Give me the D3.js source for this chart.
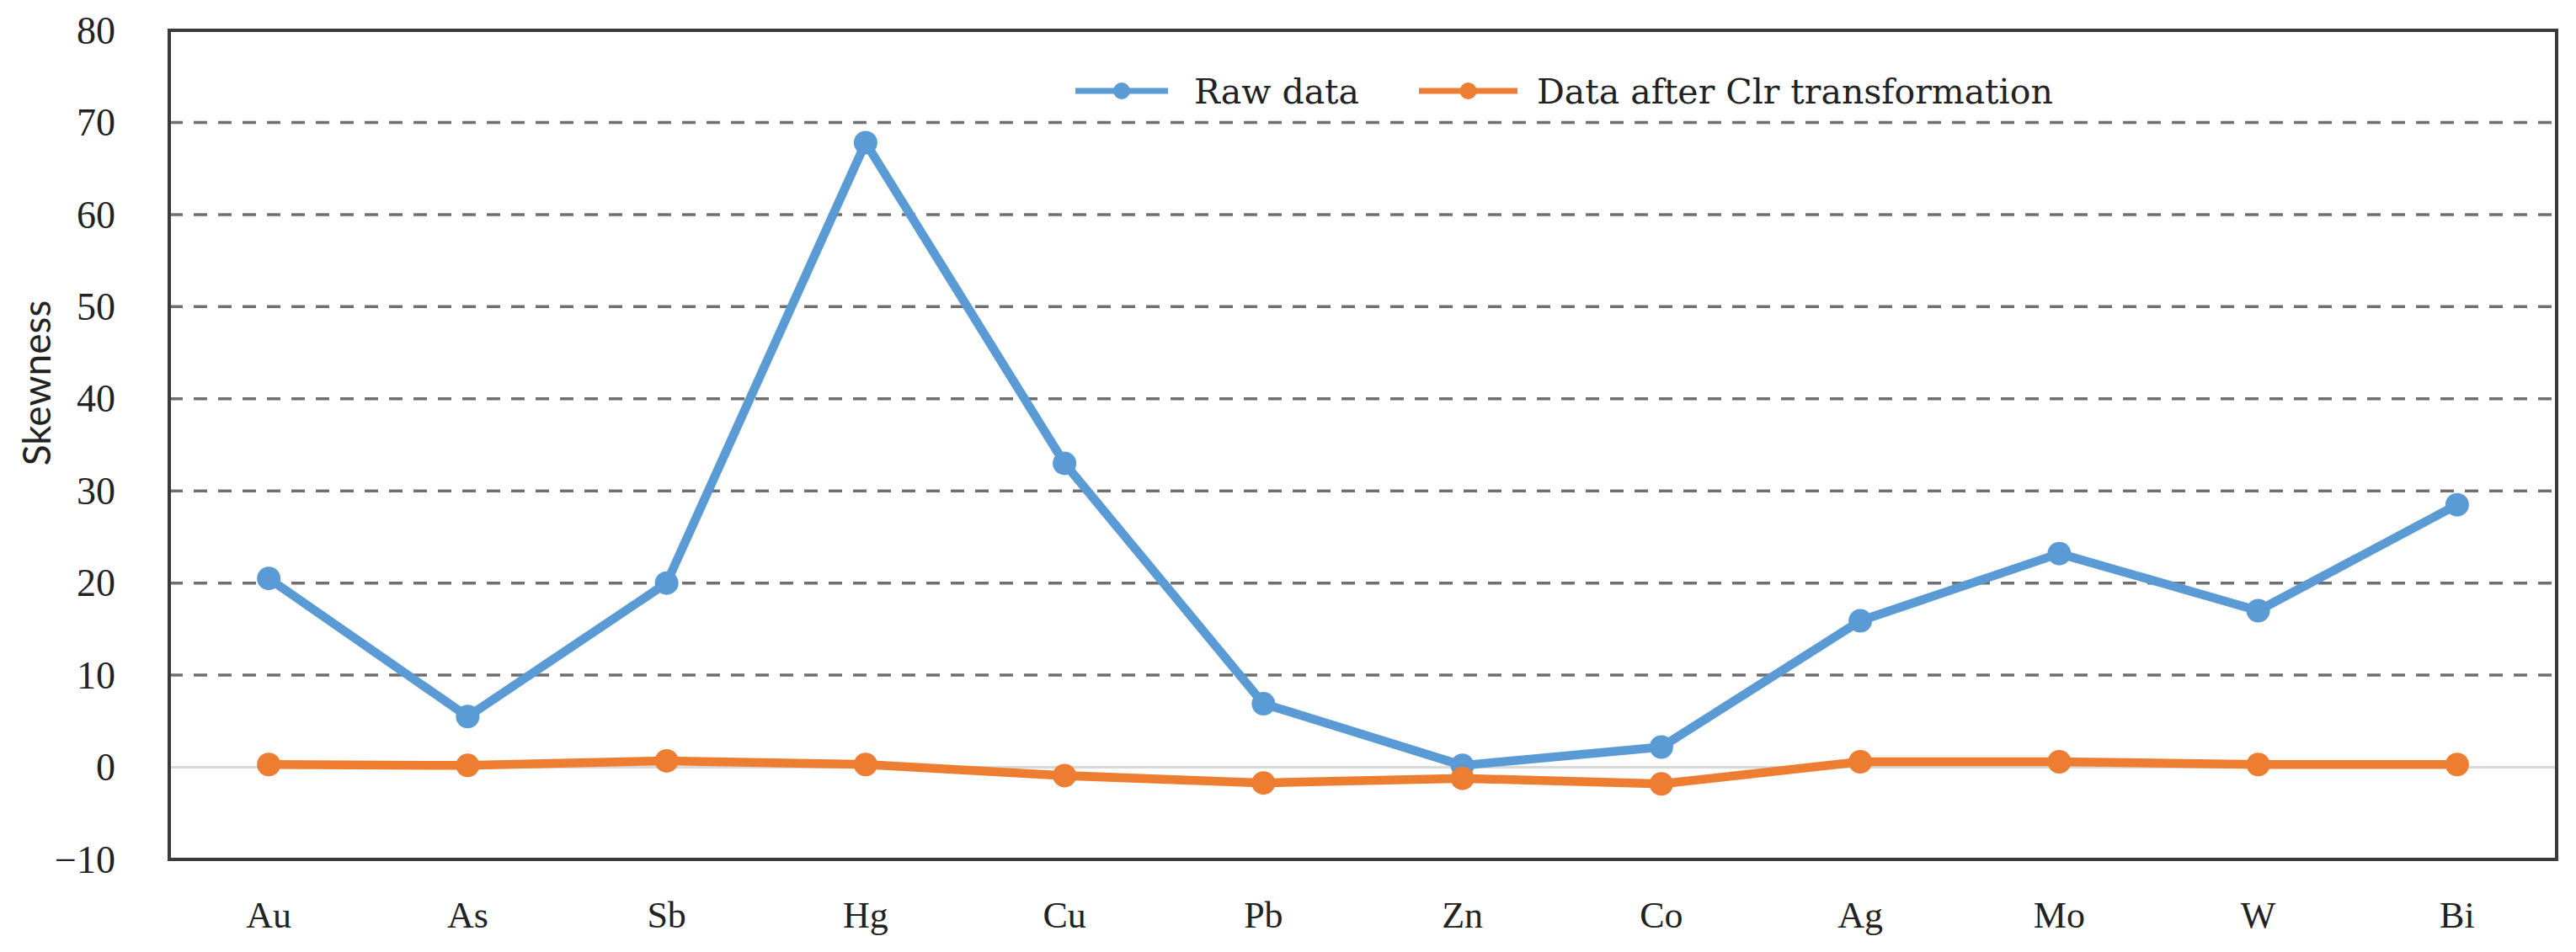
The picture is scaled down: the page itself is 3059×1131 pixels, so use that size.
<!DOCTYPE html>
<html>
<head>
<meta charset="utf-8">
<script src="https://cdn.jsdelivr.net/npm/d3@7"></script>
<style>
  html, body { margin: 0; padding: 0; background: #fff; }
  svg { display: block; }
</style>
</head>
<body>
<svg id="chart" width="3059" height="1131"></svg>
<script>
const categories = ["Au", "As", "Sb", "Hg", "Cu", "Pb", "Zn", "Co", "Ag", "Mo", "W", "Bi"];
const rawData = [20.5, 5.5, 20.0, 67.8, 33.0, 6.9, 0.2, 2.2, 15.9, 23.2, 17.0, 28.5];
const clrData = [0.3, 0.2, 0.7, 0.3, -0.9, -1.7, -1.2, -1.8, 0.6, 0.6, 0.3, 0.3];
const yTicks = [-10, 0, 10, 20, 30, 40, 50, 60, 70, 80];
const seriesNames = ["Raw data", "Data after Clr transformation"];
const seriesColors = ["#5B9BD5", "#ED7D31"];
const yLabel = "Skewness";

const svg = d3.select("#chart");
const margin = { left: 201, right: 3036, top: 36, bottom: 1021 };

const x = d3.scaleBand().domain(categories).range([margin.left, margin.right]);
const y = d3.scaleLinear().domain([-10, 80]).range([margin.bottom, margin.top]);
const cx = d => x(d) + x.bandwidth() / 2;

const serif = "'Liberation Serif', 'Times New Roman', serif";

// gridlines (dashed) for interior ticks except 0
svg.append("g").selectAll("line")
  .data(yTicks.filter(t => t !== 0 && t !== -10 && t !== 80))
  .join("line")
  .attr("x1", margin.left).attr("x2", margin.right)
  .attr("y1", d => y(d)).attr("y2", d => y(d))
  .attr("stroke", "#6f6f6f").attr("stroke-width", 3.5)
  .attr("stroke-dasharray", "16,13");

// zero line
svg.append("line")
  .attr("x1", margin.left).attr("x2", margin.right)
  .attr("y1", y(0)).attr("y2", y(0))
  .attr("stroke", "#d9d9d9").attr("stroke-width", 3);

// frame
svg.append("rect")
  .attr("x", margin.left).attr("y", margin.top)
  .attr("width", margin.right - margin.left)
  .attr("height", margin.bottom - margin.top)
  .attr("fill", "none").attr("stroke", "#3a3a3a").attr("stroke-width", 4);

// y axis
const yAxis = d3.axisLeft(y).tickValues(yTicks).tickSize(0).tickPadding(0)
  .tickFormat(d => d < 0 ? "\u2212" + Math.abs(d) : String(d));
const gy = svg.append("g").attr("transform", `translate(137,0)`).call(yAxis);
gy.select(".domain").remove();
gy.selectAll("text")
  .attr("font-family", serif).attr("font-size", 46).attr("fill", "#222")
  .attr("dy", "0.33em");

// x axis
const xAxis = d3.axisBottom(x).tickSize(0).tickPadding(0);
const gx = svg.append("g").attr("transform", `translate(0,1102)`).call(xAxis);
gx.select(".domain").remove();
gx.selectAll("text")
  .attr("font-family", serif).attr("font-size", 44).attr("fill", "#222")
  .attr("dy", 0);

// y label
svg.append("text")
  .attr("transform", "translate(60,455) rotate(-90)")
  .attr("text-anchor", "middle")
  .attr("font-family", "Lato, 'Open Sans', sans-serif")
  .attr("font-size", 46).attr("fill", "#222")
  .text(yLabel);

// lines
const line = d3.line().x((d, i) => cx(categories[i])).y(d => y(d));
[rawData, clrData].forEach((data, si) => {
  svg.append("path").datum(data)
    .attr("d", line).attr("fill", "none")
    .attr("stroke", seriesColors[si]).attr("stroke-width", 10.5)
    .attr("stroke-linejoin", "round");
  svg.append("g").selectAll("circle").data(data).join("circle")
    .attr("cx", (d, i) => cx(categories[i])).attr("cy", d => y(d))
    .attr("r", 14).attr("fill", seriesColors[si]);
});

// legend
const legendItems = [
  { x1: 1277, x2: 1387, tx: 1418 },
  { x1: 1685, x2: 1802, tx: 1825 }
];
const lg = svg.append("g");
legendItems.forEach((it, i) => {
  lg.append("line").attr("x1", it.x1).attr("x2", it.x2)
    .attr("y1", 108).attr("y2", 108)
    .attr("stroke", seriesColors[i]).attr("stroke-width", 7);
  lg.append("circle").attr("cx", (it.x1 + it.x2) / 2).attr("cy", 108)
    .attr("r", 10).attr("fill", seriesColors[i]);
  lg.append("text").attr("x", it.tx).attr("y", 123)
    .attr("font-family", "'DejaVu Serif', serif").attr("font-size", 41)
    .attr("fill", "#222").text(seriesNames[i]);
});
</script>
</body>
</html>
